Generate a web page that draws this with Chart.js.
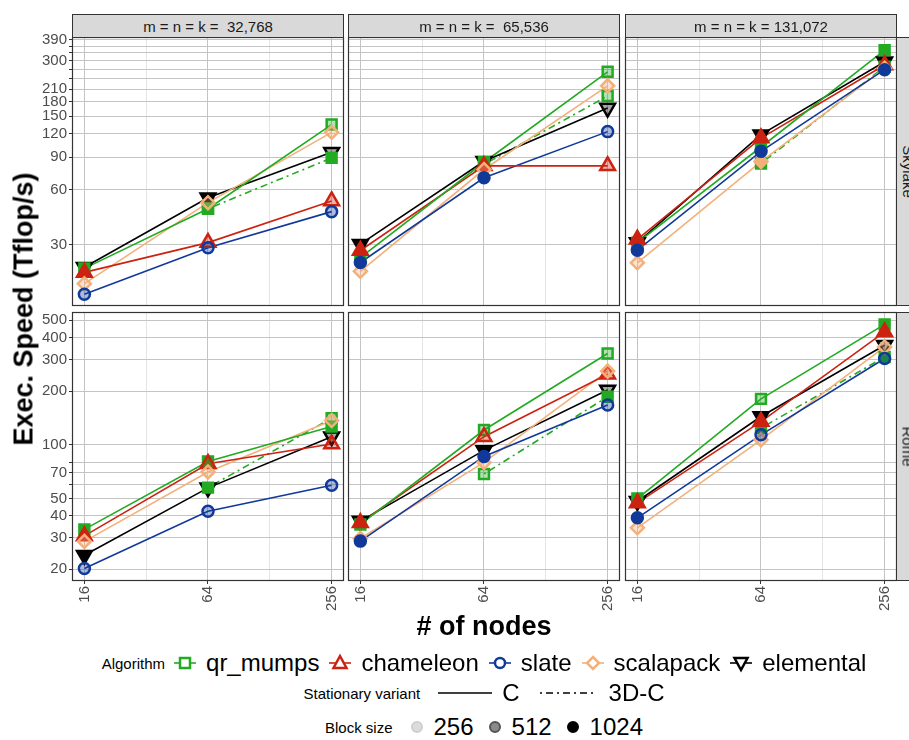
<!DOCTYPE html>
<html>
<head>
<meta charset="utf-8">
<script src="https://cdn.jsdelivr.net/npm/chart.js@4.4.1/dist/chart.umd.min.js"></script>
<style>
body{margin:0;width:909px;height:740px;overflow:hidden;background:#fff;position:relative;font-family:"Liberation Sans",Arial,sans-serif}
.strip{position:absolute;box-sizing:border-box;background:#d9d9d9;border:1px solid #333;color:#1a1a1a;font-size:15px;display:flex;align-items:center;justify-content:center;white-space:pre}
.vstrip span{display:block;transform:rotate(90deg);white-space:nowrap}
.title{position:absolute;font-weight:bold;font-size:27px;color:#000;white-space:nowrap}
.lg{position:absolute;left:0;width:968px;height:30px;display:flex;align-items:center;justify-content:center;white-space:nowrap}
.lt{font-size:15px;color:#000}
.ll{font-size:24px;color:#000}
svg{display:block}
</style>
</head>
<body>
<script>
// facets
const nodes = [16, 64, 256];
const sizeLabels = ['32,768', '65,536', '131,072'];
const machines = ['Skylake', 'Rome'];
const algorithms = ['qr_mumps', 'chameleon', 'slate', 'scalapack', 'elemental'];
const blockSizes = [256, 512, 1024];

// y breaks per machine row
const skyBreaks = [30, 60, 90, 120, 150, 180, 210, 240, 270, 300, 330, 360, 390];
const skyLabels = [30, 60, 90, 120, 150, 180, 210, 300, 390];
const romeBreaks = [20, 30, 40, 50, 60, 70, 80, 100, 200, 300, 400, 500];
const romeLabels = [20, 30, 40, 50, 70, 100, 200, 300, 400, 500];

// Tflop/s, one row per algorithm (variant C), columns = nodes
const sky_32768 = [
  [22.4, 47.2, 135],
  [21.3, 30.9, 52],
  [16.2, 29.0, 45.5],
  [18.5, 50.9, 122.5],
  [22.7, 54.1, 95.5]
];
const sky_65536 = [
  [25.6, 84.3, 261],
  [28.0, 80.6, 80.6],
  [24.1, 69.4, 123.6],
  [21.6, 77, 219],
  [30.3, 85.3, 166]
];
const sky_131072 = [
  [30.9, 102, 342],
  [32.2, 114, 284],
  [28.1, 96.6, 268],
  [24.0, 85, 273],
  [30.9, 119, 296]
];
const rome_32768 = [
  [33.5, 80.6, 126.5],
  [30.8, 78.3, 101],
  [20.2, 42.4, 59.3],
  [28.7, 70.4, 136.7],
  [24.0, 57.3, 111]
];
const rome_65536 = [
  [35.7, 121, 325],
  [36.5, 111, 249],
  [28.8, 86, 167],
  [29.8, 79.6, 259],
  [37.3, 93, 203]
];
const rome_131072 = [
  [49.9, 181, 474],
  [47.2, 135, 430],
  [38.9, 113.7, 305],
  [34.2, 106.6, 354],
  [48.2, 144, 362]
];
// qr_mumps 3D-C variant
const sky_3dc = [[null, 47.2, 89], [null, 82, 193], [null, 83, 278]];
const rome_3dc = [[null, 57.5, 141], [null, 68.6, 186], [null, 124, 311]];

// block size of each point (same layout as values)
const sky_bs = [
  [[1024,1024,512],[1024,512,512],[512,512,512],[512,512,512],[1024,1024,512]],
  [[1024,1024,512],[1024,1024,512],[1024,1024,512],[512,512,512],[1024,1024,512]],
  [[1024,1024,1024],[1024,1024,1024],[1024,1024,1024],[512,1024,1024],[1024,1024,1024]]
];
const rome_bs = [
  [[1024,1024,1024],[1024,512,512],[512,512,512],[512,512,512],[1024,1024,512]],
  [[1024,512,512],[1024,512,512],[1024,1024,512],[512,512,512],[1024,1024,512]],
  [[1024,512,1024],[1024,1024,1024],[1024,512,512],[512,512,512],[1024,1024,512]]
];
const sky_3dc_bs = [[null,1024,1024],[null,1024,512],[null,1024,1024]];
const rome_3dc_bs = [[null,1024,512],[null,512,1024],[null,1024,1024]];

const colors = ['#22aa22', '#cc2211', '#10399a', '#f4b07a', '#000000'];
const shapes = ['rect', 'triangle', 'circle', 'rectRot', 'triangle'];
const rotations = [0, 0, 0, 0, 180];
const radii = [7, 8.5, 5.5, 6.5, 8.5];
const drawOrder = [4, 3, 1, 2, 5];
const alphaFor = {256: 0.15, 512: 0.35, 1024: 1};

const FONT = '"Liberation Sans", Arial, sans-serif';
Chart.defaults.font.family = FONT;
const MAJ = '#c4c4c4', MIN = '#e4e4e4';

function rgba(hex, a){
  const n = parseInt(hex.slice(1), 16);
  return `rgba(${n>>16},${(n>>8)&255},${n&255},${a})`;
}

const frame = {
  id: 'frame',
  afterDraw(c){
    const a = c.chartArea, ctx = c.ctx;
    ctx.save();
    ctx.strokeStyle = '#333'; ctx.lineWidth = 1.2;
    ctx.strokeRect(a.left + 0.5, a.top + 0.5, a.right - a.left - 1, a.bottom - a.top - 1);
    ctx.restore();
  }
};

const colLeft = [72, 348, 625], rowTop = [37, 312];
const PW = 272, PH = 269, E = 12, YAX = 72, XAX = 40;
const xGrid = nodes.concat(nodes.slice(1).map((n, i) => Math.sqrt(n * nodes[i])));

const rows = [
  {vals: [sky_32768, sky_65536, sky_131072], v3: sky_3dc, bs: sky_bs, b3: sky_3dc_bs,
   min: 14.0, max: 403, breaks: skyBreaks, labels: skyLabels},
  {vals: [rome_32768, rome_65536, rome_131072], v3: rome_3dc, bs: rome_bs, b3: rome_3dc_bs,
   min: 17.2, max: 556, breaks: romeBreaks, labels: romeLabels}
];

function pts(arr){ return nodes.map((n, i) => ({x: n, y: arr[i]})); }

rows.forEach((R, r) => {
  for (let c = 0; c < 3; c++) {
    const left = colLeft[c], top = rowTop[r];
    const showY = c === 0, showX = r === 1;
    const cl = showY ? 0 : left - E, ct = top - E;
    const cw = left + PW + E - cl, ch = PH + 2 * E + (showX ? XAX : 0);
    const cv = document.createElement('canvas');
    cv.width = cw; cv.height = ch;
    cv.style.cssText = `position:absolute;left:${cl}px;top:${ct}px`;
    document.body.appendChild(cv);

    const vals = R.vals[c], bs = R.bs[c];
    const datasets = [];
    algorithms.forEach((name, a) => {
      datasets.push({data: pts(vals[a]), borderColor: colors[a], borderWidth: 1.6,
        pointRadius: 0, order: 100, tension: 0});
      datasets.push({data: pts(vals[a]), showLine: false, order: drawOrder[a],
        pointStyle: shapes[a], pointRotation: rotations[a], pointRadius: radii[a],
        pointBorderWidth: 2.5, pointBorderColor: colors[a],
        pointBackgroundColor: bs[a].map(b => rgba(colors[a], alphaFor[b]))});
    });
    // qr_mumps, 3D-C variant
    datasets.push({data: pts(R.v3[c]), borderColor: colors[0], borderWidth: 1.6,
      borderDash: [2, 4, 7, 4], pointRadius: 0, order: 100, spanGaps: false});
    datasets.push({data: pts(R.v3[c]), showLine: false, order: 4,
      pointStyle: 'rect', pointRadius: radii[0], pointBorderWidth: 2.5, pointBorderColor: colors[0],
      pointBackgroundColor: R.b3[c].map(b => b ? rgba(colors[0], alphaFor[b]) : 'transparent')});

    new Chart(cv, {
      type: 'line',
      data: {datasets},
      options: {
        responsive: false, animation: false, devicePixelRatio: 1,
        layout: {padding: {left: showY ? 0 : E, right: E, top: E, bottom: E}},
        plugins: {legend: {display: false}, tooltip: {enabled: false}},
        scales: {
          x: {
            type: 'logarithmic', min: 16 / Math.pow(2, 0.2), max: 256 * Math.pow(2, 0.2),
            afterBuildTicks(s){ s.ticks = xGrid.slice().sort((p, q) => p - q).map(v => ({value: v})); },
            afterFit(s){ s.height = showX ? XAX : 0; s.paddingLeft = 0; s.paddingRight = 0; },
            border: {display: false},
            grid: {
              color: g => g.tick && nodes.includes(g.tick.value) ? MAJ : MIN,
              drawTicks: showX, tickLength: 3,
              tickColor: g => g.tick && nodes.includes(g.tick.value) ? '#333' : 'rgba(0,0,0,0)'
            },
            ticks: {display: showX, autoSkip: false, minRotation: 90, maxRotation: 90, padding: 2,
              color: '#4d4d4d', font: {size: 15},
              callback: v => nodes.includes(v) ? String(v) : ''}
          },
          y: {
            type: 'logarithmic', min: R.min, max: R.max,
            afterBuildTicks(s){ s.ticks = R.breaks.map(v => ({value: v})); },
            afterFit(s){ s.width = showY ? YAX : 0; s.paddingTop = 0; s.paddingBottom = 0; },
            border: {display: false},
            grid: {color: MAJ, drawTicks: showY, tickLength: 3, tickColor: '#333'},
            ticks: {display: showY, autoSkip: false, padding: 2, color: '#4d4d4d', font: {size: 15},
              callback: v => R.labels.includes(v) ? String(v) : ''}
          }
        }
      },
      plugins: [frame]
    });
  }
});

// strips
function addDiv(cls, css, html){
  const d = document.createElement('div');
  d.className = cls; d.style.cssText = css; d.innerHTML = html;
  document.body.appendChild(d);
  return d;
}
sizeLabels.forEach((s, c) => {
  const txt = 'm = n = k = ' + s.padStart(7, ' ');
  addDiv('strip', `left:${colLeft[c]}px;top:14px;width:${PW}px;height:24px`, txt);
});
machines.forEach((m, r) => {
  addDiv('strip vstrip', `left:896px;top:${rowTop[r]}px;width:24px;height:${PH}px`, `<span>${m}</span>`);
});

// axis titles
addDiv('title', 'left:24px;top:309px;transform:translate(-50%,-50%) rotate(-90deg)', 'Exec. Speed (Tflop/s)');
addDiv('title', 'left:484px;top:626px;transform:translate(-50%,-50%)', '# of nodes');

// legend
function keySvg(a){
  const col = colors[a], sw = 2.5;
  let mk = '';
  if (a === 0) mk = `<rect x="6" y="6" width="10" height="10" fill="#fff" stroke="${col}" stroke-width="${sw}"/>`;
  if (a === 1) mk = `<polygon points="11,4 17.5,16 4.5,16" fill="#fff" stroke="${col}" stroke-width="${sw}"/>`;
  if (a === 2) mk = `<circle cx="11" cy="11" r="5" fill="#fff" stroke="${col}" stroke-width="${sw}"/>`;
  if (a === 3) mk = `<polygon points="11,5 17,11 11,17 5,11" fill="#fff" stroke="${col}" stroke-width="${sw}"/>`;
  if (a === 4) mk = `<polygon points="4.5,6 17.5,6 11,18" fill="#fff" stroke="${col}" stroke-width="${sw}"/>`;
  return `<svg width="22" height="22"><line x1="0" y1="11" x2="22" y2="11" stroke="${col}" stroke-width="1.6"/>${mk}</svg>`;
}
let row1 = '<span class="lt">Algorithm</span>';
algorithms.forEach((name, a) => {
  row1 += `<span style="margin-left:${a ? 10 : 9}px">${keySvg(a)}</span><span class="ll" style="margin-left:10px">${name}</span>`;
});
addDiv('lg', 'top:648px', row1);

const row2 = '<span class="lt">Stationary variant</span>' +
  '<span style="margin-left:18px"><svg width="54" height="10"><line x1="0" y1="5" x2="54" y2="5" stroke="#000" stroke-width="1.6"/></svg></span>' +
  '<span class="ll" style="margin-left:10px">C</span>' +
  '<span style="margin-left:20px"><svg width="54" height="10"><line x1="0" y1="5" x2="54" y2="5" stroke="#000" stroke-width="1.6" stroke-dasharray="2 4 7 4"/></svg></span>' +
  '<span class="ll" style="margin-left:15px">3D-C</span>';
addDiv('lg', 'top:678px', row2);

const bsFill = {256: ['#dcdcdc', '#cfcfcf'], 512: ['#8a8a8a', '#555'], 1024: ['#000', '#000']};
let row3 = '<span class="lt">Block size</span>';
blockSizes.forEach((b, i) => {
  row3 += `<span style="margin-left:${i ? 14 : 17}px"><svg width="14" height="14"><circle cx="7" cy="7" r="5" fill="${bsFill[b][0]}" stroke="${bsFill[b][1]}" stroke-width="2"/></svg></span>` +
    `<span class="ll" style="margin-left:10px">${b}</span>`;
});
addDiv('lg', 'top:712px', row3);
</script>
</body>
</html>
